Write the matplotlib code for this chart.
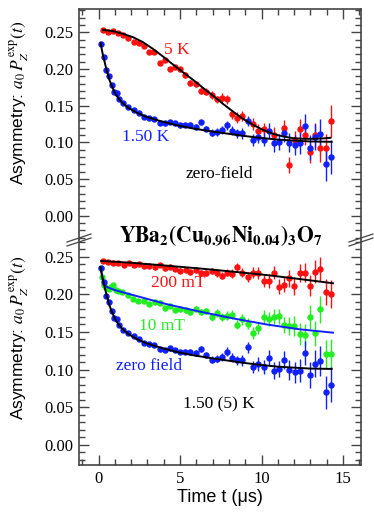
import numpy as np
import matplotlib
matplotlib.use("Agg")
import matplotlib.pyplot as plt
from matplotlib.ticker import MultipleLocator
from matplotlib.lines import Line2D

# ---------------- data ----------------
# Top panel: 5 K zero field (red)
t_5K = [0.27, 0.57, 0.88, 1.19, 1.49, 1.82, 2.15, 2.47, 2.78, 3.11, 3.42, 3.76, 4.07, 4.40,
        4.70, 5.01, 5.32, 5.64, 5.97, 6.28, 6.61, 6.93, 7.24, 7.57, 7.88, 8.18, 8.51, 8.83,
        9.47, 9.78, 10.12, 10.75, 11.39, 11.70, 12.03, 12.33, 12.66, 12.97, 13.29, 13.60,
        13.93, 14.23]
a_5K = [0.2536, 0.251, 0.2514, 0.2495, 0.2464, 0.2418, 0.2368, 0.235, 0.2318, 0.2236, 0.2236,
        0.2086, 0.2123, 0.200, 0.2027, 0.1995, 0.1918, 0.1814, 0.1795, 0.1705, 0.1691, 0.1645,
        0.1586, 0.161, 0.1586, 0.1386, 0.134, 0.136, 0.125, 0.116, 0.1177, 0.1105, 0.12,
        0.069, 0.103, 0.119, 0.110, 0.0873, 0.110, 0.0918, 0.0918, 0.1295]
e_5K = [0.002, 0.002, 0.002, 0.002, 0.002, 0.002, 0.002, 0.002, 0.002, 0.003, 0.003, 0.003,
        0.003, 0.003, 0.003, 0.003, 0.004, 0.004, 0.004, 0.004, 0.005, 0.005, 0.005, 0.006,
        0.006, 0.006, 0.007, 0.007, 0.008, 0.009, 0.009, 0.010, 0.011, 0.011, 0.012, 0.013,
        0.014, 0.015, 0.016, 0.018, 0.020, 0.022]
fit_t_5K = [0.27, 0.88, 1.49, 2.11, 2.72, 3.33, 3.95, 4.56, 5.17, 5.79, 6.40, 7.01, 7.63, 8.24,
            8.85, 9.47, 10.08, 10.70, 11.31, 11.92, 12.54, 13.15, 13.76, 14.23]
fit_a_5K = [0.2536, 0.2518, 0.2482, 0.2436, 0.2368, 0.2277, 0.2173, 0.2064, 0.1959, 0.1855,
            0.1745, 0.1641, 0.1527, 0.1423, 0.1323, 0.1241, 0.1173, 0.1118, 0.1082, 0.1059,
            0.105, 0.105, 0.1055, 0.1064]

# 1.50 K zero field (blue), shown in both panels
t_ZF = [0.12, 0.31, 0.47, 0.63, 0.80, 0.96, 1.12, 1.27, 1.49, 1.82, 2.15, 2.47, 2.78, 3.11,
        3.42, 3.76, 4.07, 4.40, 4.70, 5.01, 5.32, 5.64, 5.97, 6.28, 6.61, 6.93, 7.24, 7.57,
        7.88, 8.18, 8.51, 8.83, 9.16, 9.49, 9.80, 10.12, 10.43, 10.75, 11.06, 11.39, 11.70,
        12.03, 12.33, 12.66, 12.97, 13.29, 13.60, 13.93, 14.23]
a_ZF = [0.2345, 0.2164, 0.1982, 0.190, 0.1782, 0.1682, 0.1677, 0.1586, 0.1532, 0.1486, 0.1441,
        0.1405, 0.135, 0.1336, 0.1323, 0.1268, 0.1259, 0.1282, 0.1259, 0.1232, 0.124, 0.124,
        0.1214, 0.1273, 0.119, 0.1132, 0.1145, 0.1168, 0.1236, 0.1159, 0.1123, 0.1123, 0.1295,
        0.1036, 0.1077, 0.1036, 0.1159, 0.0986, 0.1009, 0.1123, 0.0995, 0.0964, 0.0986,
        0.1223, 0.0927, 0.1077, 0.1114, 0.070, 0.080]
e_ZF = [0.002, 0.002, 0.002, 0.002, 0.002, 0.002, 0.002, 0.002, 0.002, 0.002, 0.002, 0.002,
        0.002, 0.003, 0.003, 0.003, 0.003, 0.003, 0.003, 0.003, 0.003, 0.004, 0.004, 0.004,
        0.004, 0.005, 0.005, 0.005, 0.006, 0.006, 0.006, 0.007, 0.007, 0.008, 0.009, 0.009,
        0.010, 0.011, 0.011, 0.012, 0.013, 0.014, 0.015, 0.016, 0.017, 0.018, 0.020, 0.022,
        0.023]
fit_t_ZF = [0.12, 0.27, 0.47, 0.67, 0.88, 1.08, 1.39, 1.80, 2.31, 2.92, 3.74, 4.76, 5.79, 6.81,
            7.83, 8.85, 9.88, 10.90, 11.92, 12.94, 14.30]
fit_a_ZF = [0.2359, 0.219, 0.2009, 0.185, 0.1736, 0.1645, 0.1555, 0.1477, 0.1409, 0.135,
            0.1295, 0.1236, 0.1191, 0.1155, 0.1123, 0.1091, 0.1064, 0.1041, 0.1027, 0.1014,
            0.1009]

# Bottom panel: 200 mT (red)
t_200 = [0.25, 0.57, 0.88, 1.21, 1.53, 1.84, 2.17, 2.47, 2.80, 3.11, 3.44, 3.74, 4.07, 4.40,
         4.70, 5.01, 5.34, 5.64, 5.97, 6.28, 6.61, 6.93, 7.24, 7.57, 7.88, 8.18, 8.51, 8.83,
         9.14, 9.47, 9.78, 10.12, 10.43, 10.76, 11.06, 11.39, 11.70, 12.02, 12.33, 12.66,
         12.97, 13.29, 13.60, 13.93, 14.23]
a_200 = [0.2442, 0.2429, 0.2412, 0.242, 0.2389, 0.2412, 0.2394, 0.2398, 0.2376, 0.238, 0.2358,
         0.2389, 0.2345, 0.2367, 0.2332, 0.2314, 0.2323, 0.2301, 0.2323, 0.2288, 0.2288, 0.231,
         0.2279, 0.2248, 0.2288, 0.227, 0.2358, 0.2288, 0.2226, 0.2288, 0.2279, 0.2181, 0.2177,
         0.2288, 0.2102, 0.2124, 0.2212, 0.2111, 0.2288, 0.2288, 0.2111, 0.2301, 0.2332,
         0.2027, 0.2004]
e_200 = [0.002, 0.002, 0.002, 0.002, 0.002, 0.002, 0.002, 0.002, 0.002, 0.002, 0.003, 0.003,
         0.003, 0.003, 0.003, 0.003, 0.003, 0.004, 0.004, 0.004, 0.004, 0.004, 0.005, 0.005,
         0.005, 0.006, 0.006, 0.006, 0.007, 0.007, 0.008, 0.008, 0.009, 0.009, 0.010, 0.010,
         0.011, 0.012, 0.012, 0.013, 0.014, 0.015, 0.016, 0.017, 0.018]
fit_t_200 = [0.16, 2.0, 4.15, 6.2, 8.24, 10.3, 12.3, 14.38]
fit_a_200 = [0.2442, 0.2418, 0.238, 0.2342, 0.230, 0.2255, 0.2203, 0.2146]

# Bottom panel: 10 mT (green)
t_10 = [0.12, 0.22, 0.33, 0.47, 0.61, 0.76, 0.90, 1.04, 1.19, 1.45, 1.80, 2.13, 2.45, 2.78,
        3.11, 3.44, 3.74, 4.07, 4.40, 4.70, 5.01, 5.34, 5.64, 5.97, 6.28, 6.61, 6.93, 7.24,
        7.57, 7.88, 8.18, 8.51, 8.83, 9.14, 9.47, 9.78, 10.12, 10.43, 10.76, 11.06, 11.39,
        11.70, 12.02, 12.33, 12.66, 12.97, 13.29, 13.60, 13.93, 14.23]
a_10 = [0.2354, 0.2235, 0.2124, 0.208, 0.2066, 0.2102, 0.2124, 0.2058, 0.2044, 0.2035, 0.1991,
        0.1934, 0.1916, 0.1916, 0.1872, 0.1903, 0.1889, 0.1814, 0.1845, 0.1792, 0.1801, 0.1792,
        0.177, 0.1801, 0.177, 0.1779, 0.1695, 0.1748, 0.1695, 0.1712, 0.1726, 0.1593, 0.1668,
        0.161, 0.1482, 0.1549, 0.1695, 0.1668, 0.1704, 0.1705, 0.1593, 0.158, 0.158, 0.1473,
        0.146, 0.1695, 0.148, 0.1801, 0.1208, 0.1208]
e_10 = [0.002, 0.002, 0.002, 0.002, 0.002, 0.002, 0.002, 0.002, 0.002, 0.002, 0.002, 0.002,
        0.002, 0.002, 0.003, 0.003, 0.003, 0.003, 0.003, 0.003, 0.003, 0.004, 0.004, 0.004,
        0.004, 0.004, 0.005, 0.005, 0.005, 0.006, 0.006, 0.006, 0.007, 0.007, 0.008, 0.008,
        0.009, 0.009, 0.010, 0.010, 0.011, 0.012, 0.013, 0.014, 0.015, 0.016, 0.017, 0.018,
        0.019, 0.020]
fit_t_10 = [0.12, 0.25, 0.47, 1.0, 2.1, 4.15, 6.2, 8.24, 10.29, 12.33, 14.38]
fit_a_10 = [0.2354, 0.2200, 0.210, 0.2055, 0.199, 0.187, 0.177, 0.168, 0.160, 0.1535, 0.149]

x_ticks = [0, 5, 10, 15]
y_ticks = [0.00, 0.05, 0.10, 0.15, 0.20, 0.25]

RED = "#ff1010"
BLUE = "#1020ff"
GREEN = "#22ee22"
SERIF = "Liberation Serif"
SANS = "Liberation Sans"

plt.rcParams["mathtext.fontset"] = "stix"
plt.rcParams["font.family"] = SERIF

fig = plt.figure(figsize=(3.74, 5.12), dpi=100)
L, W = 79 / 374, (361 - 79) / 374
ax1 = fig.add_axes([L, 1 - 240 / 512, W, 231 / 512])
ax2 = fig.add_axes([L, 1 - 465 / 512, W, 225 / 512])

spine_c = "#444444"
for ax in (ax1, ax2):
    ax.set_xlim(-1.2, 16.1)
    ax.set_xticks(x_ticks)
    ax.xaxis.set_minor_locator(MultipleLocator(1))
    ax.set_yticks(y_ticks)
    ax.set_yticklabels([f"{v:.2f}" for v in y_ticks])
    ax.yaxis.set_minor_locator(MultipleLocator(0.01))
    ax.tick_params(which="both", direction="in", right=True, color=spine_c, labelsize=12,
                   width=1.0)
    ax.tick_params(which="major", length=7, pad=4)
    ax.tick_params(which="minor", length=4)
    for s in ax.spines.values():
        s.set_color(spine_c)
        s.set_linewidth(1.2)
    for lab in ax.get_yticklabels() + ax.get_xticklabels():
        lab.set_fontfamily(SERIF)

ax1.set_ylim(-0.033, 0.282)
ax2.set_ylim(-0.0266, 0.272)
ax1.spines["bottom"].set_visible(False)
ax2.spines["top"].set_visible(False)
ax1.tick_params(which="both", bottom=False, top=True, labelbottom=False)
ax2.tick_params(which="both", top=False, bottom=True)

ebkw = dict(fmt="o", ms=3.6, elinewidth=1.0, capsize=0, zorder=3)
lkw = dict(color="black", lw=1.4, zorder=4)
fs = 12.5

# top panel
ax1.errorbar(t_5K, a_5K, yerr=e_5K, color=RED, **ebkw)
ax1.errorbar(t_ZF, a_ZF, yerr=e_ZF, color=BLUE, **ebkw)
ax1.plot(fit_t_5K, fit_a_5K, **lkw)
ax1.plot(fit_t_ZF, fit_a_ZF, **lkw)
ax1.text(4.8, 0.226, "5 K", color=RED, fontsize=fs, ha="center", va="center")
ax1.text(2.9, 0.107, "1.50 K", color=BLUE, fontsize=fs, ha="center", va="center")
ax1.text(7.4, 0.057, "zero-field", color="black", fontsize=fs, ha="center", va="center")

# bottom panel
ax2.errorbar(t_200, a_200, yerr=e_200, color=RED, **ebkw)
ax2.errorbar(t_10, a_10, yerr=e_10, color=GREEN, **ebkw)
ax2.errorbar(t_ZF, a_ZF, yerr=e_ZF, color=BLUE, **ebkw)
ax2.plot(fit_t_200, fit_a_200, **lkw)
ax2.plot(fit_t_10, fit_a_10, color=BLUE, lw=1.4, zorder=4)
ax2.plot(fit_t_ZF, fit_a_ZF, **lkw)
ax2.text(4.9, 0.215, "200 mT", color=RED, fontsize=fs, ha="center", va="center")
ax2.text(3.9, 0.158, "10 mT", color=GREEN, fontsize=fs, ha="center", va="center")
ax2.text(3.1, 0.105, "zero field", color=BLUE, fontsize=fs, ha="center", va="center")
ax2.text(7.4, 0.054, "1.50 (5) K", color="black", fontsize=fs, ha="center", va="center")

ylab = r"Asymmetry: $a_0\,P_Z^{\,\mathrm{exp}}(t)$"
fig.text(19 / 374, 1 - 103 / 512, ylab, rotation=90, ha="center", va="center",
         fontsize=12.5, family=SANS)
fig.text(19 / 374, 1 - 338 / 512, ylab, rotation=90, ha="center", va="center",
         fontsize=12.5, family=SANS)
fig.text(220 / 374, 1 - 497 / 512, "Time t (μs)", ha="center", va="center",
         fontsize=13, family=SANS)

fig.text(221 / 374, 1 - 236 / 512,
         r"$\mathbf{YBa_2(Cu_{0.96}Ni_{0.04})_3O_7}$",
         ha="center", va="center", fontsize=15.5)

# axis-break marks
for xb in (79, 361):
    for dy in (-2, 2):
        x0, x1 = xb - 12, xb + 12
        y0, y1 = 240 + dy + 4, 240 + dy - 4
        fig.add_artist(Line2D([x0 / 374, x1 / 374], [1 - y0 / 512, 1 - y1 / 512],
                              color=spine_c, lw=0.9))

fig.savefig("out.png", dpi=100)
